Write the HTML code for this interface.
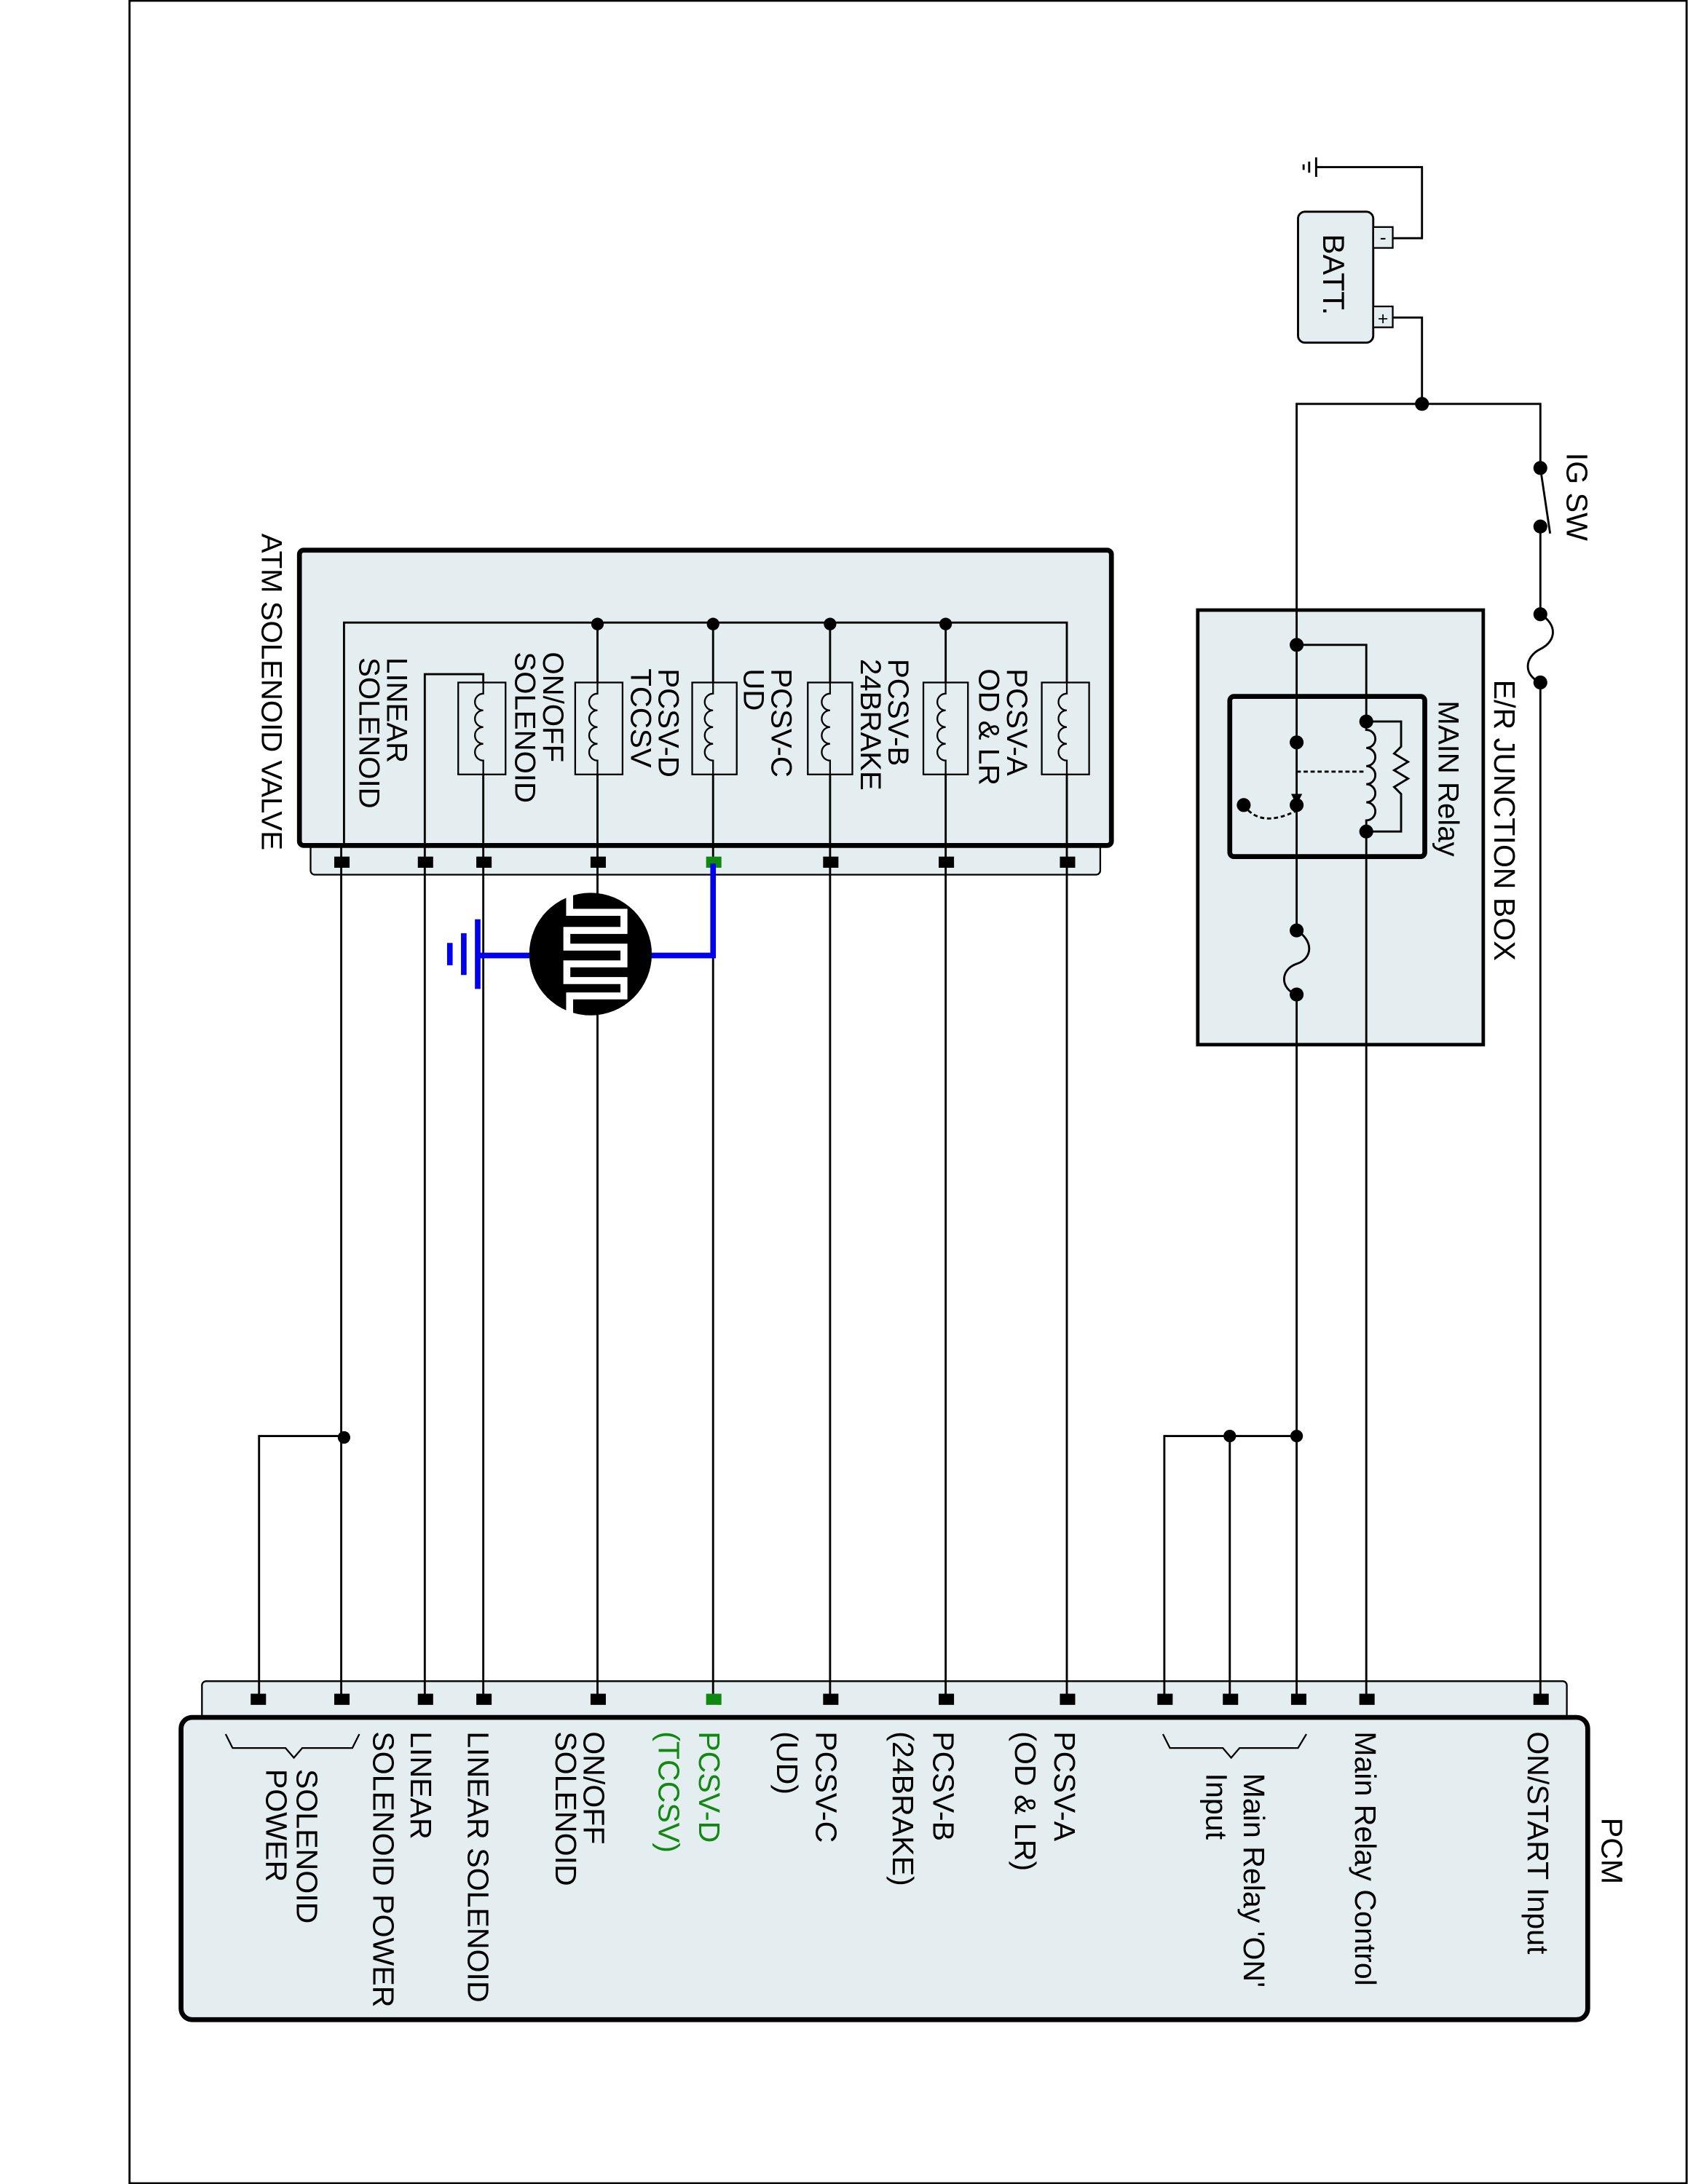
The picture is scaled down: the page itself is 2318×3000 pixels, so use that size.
<!DOCTYPE html>
<html><head><meta charset="utf-8"><style>
html,body{margin:0;padding:0;background:#fff}
svg{display:block}
text{font-family:"Liberation Sans",Arial,sans-serif;fill:#000}
</style></head><body>
<svg width="2318" height="3000" viewBox="0 0 1212 1568" preserveAspectRatio="none" xmlns="http://www.w3.org/2000/svg">
<rect x="93" y="0.5" width="1118" height="1567" fill="none" stroke="#000" stroke-width="1.5"/>

<rect x="860" y="438" width="205" height="312" fill="#e4eef0" stroke="#000" stroke-width="2.5"/>
<rect x="883" y="500" width="140" height="115" rx="3" fill="#e4eef0" stroke="#000" stroke-width="3.5"/>

<rect x="223" y="600" width="567" height="28" rx="3" fill="#e4eef0" stroke="#000" stroke-width="1.2"/>
<rect x="215" y="395" width="583" height="212" rx="3" fill="#e4eef0" stroke="#000" stroke-width="3.5"/>

<rect x="145" y="1207" width="980" height="32" rx="3" fill="#e4eef0" stroke="#000" stroke-width="1.2"/>
<rect x="130" y="1233" width="1010" height="217" rx="8" fill="#e4eef0" stroke="#000" stroke-width="3.5"/>

<rect x="932" y="152" width="54" height="94" rx="5" fill="#e4eef0" stroke="#000" stroke-width="1.5"/>
<rect x="986" y="163" width="14" height="15" fill="#e4eef0" stroke="#000" stroke-width="1.2"/>
<rect x="986" y="220" width="14" height="15" fill="#e4eef0" stroke="#000" stroke-width="1.2"/>
<text x="993" y="175" font-size="14" text-anchor="middle">-</text>
<text x="993" y="233" font-size="13" text-anchor="middle">+</text>
<text transform="translate(950,168) rotate(90)" font-size="22">BATT.</text>

<g stroke="#000" stroke-width="1.5" fill="none">
<polyline points="1000,171 1021,171 1021,120 945,120"/>
<line x1="945" y1="113" x2="945" y2="127"/>
<line x1="940" y1="116" x2="940" y2="124"/>
<line x1="936" y1="118" x2="936" y2="122"/>
<polyline points="1000,228 1021,228 1021,290"/>
<polyline points="931,578 931,290 1106,290 1106,336"/>
<line x1="1106" y1="336" x2="1113" y2="383"/>
<line x1="1106" y1="378" x2="1106" y2="441"/>
<path d="M1106,441 C1118,448 1118,460 1106,466 C1094,472 1094,485 1106,490"/>
<line x1="1106" y1="490" x2="1106" y2="1220"/>
<polyline points="931,463 981,463 981,518"/>
<path d="M981,518 v6 a6,6 0 0 1 0,13 a6,6 0 0 1 0,13 a6,6 0 0 1 0,13 a6,6 0 0 1 0,13 a6,6 0 0 1 0,13 v6"/>
<polyline points="981,518 1006,518 1006,536 1001,541 1011,547 1001,553 1011,559 1001,565 1006,570 1006,597 981,597"/>
<line x1="981" y1="597" x2="981" y2="1220"/>
<line x1="931" y1="554" x2="981" y2="554" stroke-dasharray="3 2"/>
<path d="M893,578 Q905,595 931,582" stroke-dasharray="3 2"/>
<line x1="931" y1="578" x2="931" y2="668"/>
<path d="M931,668 C943,675 943,688 931,692 C919,696 919,710 931,714"/>
<line x1="931" y1="714" x2="931" y2="1220"/>
<polyline points="931,1031 836,1031 836,1220"/>
<line x1="883" y1="1031" x2="883" y2="1220"/>
<polyline points="247,607 247,447 766,447 766,490"/>
<polyline points="305,1220 305,484 347,484 347,490"/>
<line x1="429" y1="447" x2="429" y2="490"/>
<line x1="512" y1="447" x2="512" y2="490"/>
<line x1="596" y1="447" x2="596" y2="490"/>
<line x1="679" y1="447" x2="679" y2="490"/>
<line x1="245" y1="607" x2="245" y2="1220"/>
<polyline points="245,1031 186,1031 186,1220"/>
<line x1="347" y1="556" x2="347" y2="1220"/>
<line x1="429" y1="556" x2="429" y2="1220"/>
<line x1="512" y1="556" x2="512" y2="620"/>
<line x1="512" y1="686" x2="512" y2="1220"/>
<line x1="596" y1="556" x2="596" y2="1220"/>
<line x1="679" y1="556" x2="679" y2="1220"/>
<line x1="766" y1="556" x2="766" y2="1220"/>
</g>

<g stroke="#000" stroke-width="1.2" fill="#e4eef0">
<rect x="329" y="490" width="34" height="66"/>
<rect x="413" y="490" width="34" height="66"/>
<rect x="497" y="490" width="32" height="66"/>
<rect x="580" y="490" width="32" height="66"/>
<rect x="663" y="490" width="32" height="66"/>
<rect x="748" y="490" width="34" height="66"/>
</g>
<g stroke="#000" stroke-width="1.2" fill="none">
<path d="M347,490 v8 a6,6 0 0 0 0,12 a6,6 0 0 0 0,12 a6,6 0 0 0 0,12 a6,6 0 0 0 0,12 v10"/>
<path d="M429,490 v8 a6,6 0 0 0 0,12 a6,6 0 0 0 0,12 a6,6 0 0 0 0,12 a6,6 0 0 0 0,12 v10"/>
<path d="M512,490 v8 a6,6 0 0 0 0,12 a6,6 0 0 0 0,12 a6,6 0 0 0 0,12 a6,6 0 0 0 0,12 v10"/>
<path d="M596,490 v8 a6,6 0 0 0 0,12 a6,6 0 0 0 0,12 a6,6 0 0 0 0,12 a6,6 0 0 0 0,12 v10"/>
<path d="M679,490 v8 a6,6 0 0 0 0,12 a6,6 0 0 0 0,12 a6,6 0 0 0 0,12 a6,6 0 0 0 0,12 v10"/>
<path d="M766,490 v8 a6,6 0 0 0 0,12 a6,6 0 0 0 0,12 a6,6 0 0 0 0,12 a6,6 0 0 0 0,12 v10"/>
</g>

<g fill="#000">
<circle cx="1021" cy="290" r="5"/>
<circle cx="1106" cy="336" r="5"/><circle cx="1106" cy="378" r="5"/>
<circle cx="1106" cy="441" r="5"/><circle cx="1106" cy="490" r="5"/>
<circle cx="931" cy="463" r="5"/><circle cx="931" cy="533" r="5"/><circle cx="931" cy="578" r="5"/>
<circle cx="893" cy="578" r="5"/>
<circle cx="981" cy="518" r="5"/><circle cx="981" cy="597" r="5"/>
<circle cx="931" cy="668" r="5"/><circle cx="931" cy="714" r="5"/>
<circle cx="931" cy="1031" r="4.5"/><circle cx="883" cy="1031" r="4.5"/>
<circle cx="247" cy="1032" r="4.5"/>
<circle cx="429" cy="448" r="4.5"/><circle cx="512" cy="448" r="4.5"/><circle cx="596" cy="448" r="4.5"/><circle cx="679" cy="448" r="4.5"/>
<polygon points="927,570 935,570 931,578"/>
</g>

<g fill="#000">
<rect x="240" y="615" width="11" height="8"/><rect x="300" y="615" width="11" height="8"/>
<rect x="342" y="615" width="11" height="8"/><rect x="424" y="615" width="11" height="8"/>
<rect x="591" y="615" width="11" height="8"/><rect x="674" y="615" width="11" height="8"/>
<rect x="761" y="615" width="11" height="8"/>
<rect x="180" y="1216" width="11" height="8"/><rect x="240" y="1216" width="11" height="8"/>
<rect x="300" y="1216" width="11" height="8"/><rect x="342" y="1216" width="11" height="8"/>
<rect x="424" y="1216" width="11" height="8"/><rect x="591" y="1216" width="11" height="8"/>
<rect x="674" y="1216" width="11" height="8"/><rect x="761" y="1216" width="11" height="8"/>
<rect x="831" y="1216" width="11" height="8"/><rect x="878" y="1216" width="11" height="8"/>
<rect x="927" y="1216" width="11" height="8"/><rect x="976" y="1216" width="11" height="8"/>
<rect x="1101" y="1216" width="11" height="8"/>
</g>
<rect x="507" y="615" width="11" height="8" fill="#118811"/>
<rect x="507" y="1216" width="11" height="8" fill="#118811"/>

<g stroke="#0000ee" stroke-width="4" fill="none">
<polyline points="512,620 512,686 466,686"/>
<line x1="382" y1="686" x2="343" y2="686"/>
<line x1="343" y1="660" x2="343" y2="710"/>
<line x1="333" y1="670" x2="333" y2="700"/>
<line x1="323" y1="677" x2="323" y2="693"/>
</g>
<ellipse cx="424" cy="685" rx="44" ry="44" fill="#000"/>
<path d="M409,641 V655 H448 V668 H407 V680 H448 V692 H407 V704 H448 V715 H409 V729" fill="none" stroke="#fff" stroke-width="5"/>

<g stroke="#000" stroke-width="1.2" fill="none">
<polyline points="835,1245 840,1255 878,1255 884,1262 890,1255 932,1255 938,1245"/>
<polyline points="162,1245 167,1255 205,1255 211,1262 217,1255 253,1255 258,1245"/>
</g>

<g font-size="21.5">
<text transform="translate(1125,325) rotate(90)">IG SW</text>
<text transform="translate(1073,488) rotate(90)">E/R JUNCTION BOX</text>
<text transform="translate(1033,503) rotate(90)" font-size="21">MAIN Relay</text>
<text transform="translate(188,383) rotate(90)" font-size="21">ATM SOLENOID VALVE</text>
<g font-size="21">
<text transform="translate(723,480) rotate(90)">PCSV-A</text>
<text transform="translate(703,480) rotate(90)">OD &amp; LR</text>
<text transform="translate(638,473) rotate(90)">PCSV-B</text>
<text transform="translate(618,473) rotate(90)">24BRAKE</text>
<text transform="translate(554,480) rotate(90)">PCSV-C</text>
<text transform="translate(534,480) rotate(90)">UD</text>
<text transform="translate(473,480) rotate(90)">PCSV-D</text>
<text transform="translate(453,480) rotate(90)">TCCSV</text>
<text transform="translate(390,468) rotate(90)">ON/OFF</text>
<text transform="translate(370,468) rotate(90)">SOLENOID</text>
<text transform="translate(278,472) rotate(90)">LINEAR</text>
<text transform="translate(258,472) rotate(90)">SOLENOID</text>
</g>
<text transform="translate(1150,1305) rotate(90)">PCM</text>
<text transform="translate(1097,1243) rotate(90)">ON/START Input</text>
<text transform="translate(973,1243) rotate(90)">Main Relay Control</text>
<text transform="translate(893,1273) rotate(90)">Main Relay 'ON'</text>
<text transform="translate(866,1273) rotate(90)">Input</text>
<text transform="translate(757,1243) rotate(90)">PCSV-A</text>
<text transform="translate(729,1243) rotate(90)">(OD &amp; LR)</text>
<text transform="translate(670,1243) rotate(90)">PCSV-B</text>
<text transform="translate(641,1243) rotate(90)">(24BRAKE)</text>
<text transform="translate(586,1243) rotate(90)">PCSV-C</text>
<text transform="translate(558,1243) rotate(90)">(UD)</text>
<text transform="translate(502,1243) rotate(90)" style="fill:#118811">PCSV-D</text>
<text transform="translate(473,1243) rotate(90)" style="fill:#118811">(TCCSV)</text>
<text transform="translate(419,1243) rotate(90)">ON/OFF</text>
<text transform="translate(399,1243) rotate(90)">SOLENOID</text>
<text transform="translate(336,1243) rotate(90)">LINEAR SOLENOID</text>
<text transform="translate(295,1243) rotate(90)">LINEAR</text>
<text transform="translate(268,1243) rotate(90)">SOLENOID POWER</text>
<text transform="translate(213,1270) rotate(90)">SOLENOID</text>
<text transform="translate(191,1270) rotate(90)">POWER</text>
</g>
</svg>
</body></html>
